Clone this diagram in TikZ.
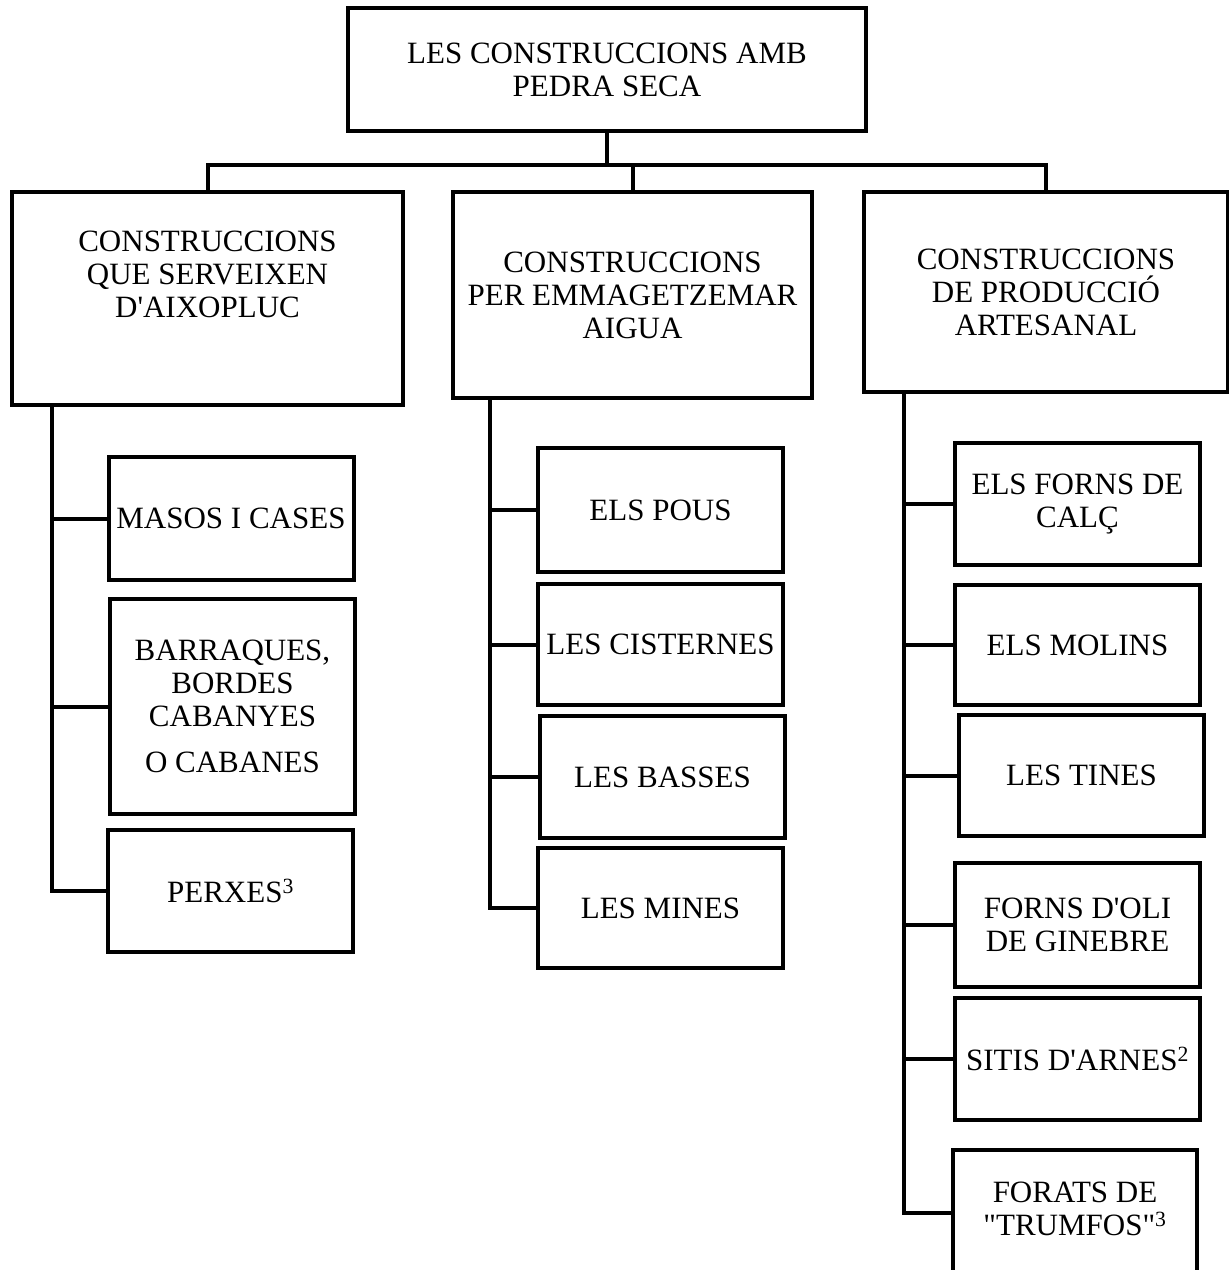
\documentclass[tikz,border=0pt]{standalone}
\usepackage{fontspec}
\setmainfont{Liberation Serif}[Ligatures=TeXOff]
\usepackage{tikz}

\tikzset{
  box/.style = {draw, line width = 4pt, align = center, inner sep = 0pt,
    font = \fontsize{31}{33}\selectfont},
  leaf/.style = {box, minimum width = 245pt, minimum height = 122pt},
  link/.style = {line width = 4pt}
}

\begin{document}
\begin{tikzpicture}[x = 1pt, y = -1pt]
\useasboundingbox (0, 0) rectangle (1229, 1270);
% top of the tree
\node[box, minimum width = 518pt, minimum height = 123pt] (root) at (607, 69.5) {LES CONSTRUCCIONS AMB\\PEDRA SECA};
\node[box, minimum width = 391pt, minimum height = 213pt] (A) at (207.5, 298.5) {CONSTRUCCIONS\\QUE SERVEIXEN\\D'AIXOPLUC\\[16pt]\mbox{}};
\node[box, minimum width = 359pt, minimum height = 206pt] (B) at (632.5, 295) {CONSTRUCCIONS\\PER EMMAGETZEMAR\\AIGUA};
\node[box, minimum width = 364pt, minimum height = 200pt] (C) at (1046, 292) {CONSTRUCCIONS\\DE PRODUCCIÓ\\ARTESANAL};
\coordinate (bus) at (607, 165);
\draw[link] (root.south) -- (bus);
\draw[link] (A.north) |- (bus) -| (C.north);
\draw[link] (B.north) -- (B.north |- bus);
% aixopluc
\node[leaf, minimum height = 123pt] (masos) at (231, 518.5) {MASOS I CASES};
\node[leaf, minimum height = 215pt] (barraques) at (232.5, 706.5) {BARRAQUES,\\BORDES\\CABANYES\\[13pt]O CABANES};
\node[leaf] (perxes) at (230.5, 891) {PERXES\textsuperscript{3}};
\coordinate (spA) at (52, 405);
\draw[link] (spA) |- (perxes.west);
\foreach \n in {masos, barraques}
  \draw[link] (spA |- \n.west) -- (\n.west);
% aigua
\node[leaf, minimum height = 124pt] (pous) at (660.5, 510) {ELS POUS};
\node[leaf, minimum height = 121pt] (cisternes) at (660.5, 644.5) {LES CISTERNES};
\node[leaf] (basses) at (662.5, 777) {LES BASSES};
\node[leaf, minimum height = 120pt] (mines) at (660.5, 908) {LES MINES};
\coordinate (spB) at (490, 398);
\draw[link] (spB) |- (mines.west);
\foreach \n in {pous, cisternes, basses}
  \draw[link] (spB |- \n.west) -- (\n.west);
% artesanal
\node[leaf] (calc) at (1077.5, 504) {ELS FORNS DE\\CALÇ};
\node[leaf, minimum height = 120pt] (molins) at (1077.5, 645) {ELS MOLINS};
\node[leaf, minimum height = 121pt] (tines) at (1081.5, 775.5) {LES TINES};
\node[leaf, minimum height = 124pt] (oli) at (1077.5, 925) {FORNS D'OLI\\DE GINEBRE};
\node[leaf] (sitis) at (1077.5, 1059) {SITIS D'ARNES\textsuperscript{2}};
\node[leaf, minimum width = 244pt, minimum height = 140pt] (forats) at (1075, 1220) {FORATS DE\\"TRUMFOS"\textsuperscript{3}\\[-10pt]\mbox{}};
\coordinate (spC) at (904, 392);
\draw[link] (spC) |- ([yshift = 7pt]forats.west);
\foreach \n in {calc, molins, tines, oli, sitis}
  \draw[link] (spC |- \n.west) -- (\n.west);
\end{tikzpicture}
\end{document}
